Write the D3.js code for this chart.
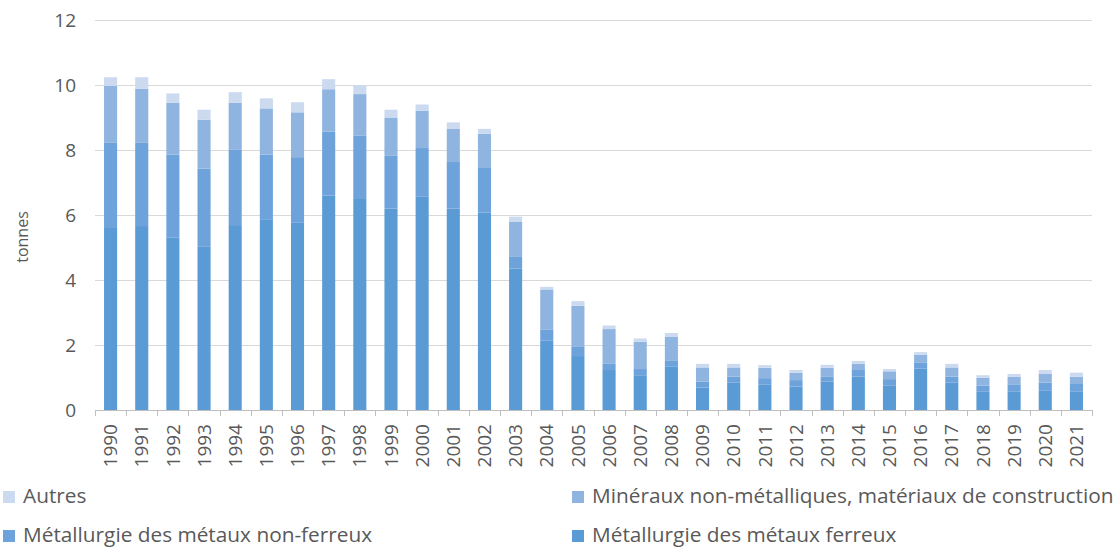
<!DOCTYPE html>
<html>
<head>
<meta charset="utf-8">
<script src="https://cdn.jsdelivr.net/npm/d3@7"></script>
<style>
  html, body { margin: 0; padding: 0; background: #ffffff; }
  svg { display: block; }
  text { font-family: "Open Sans", sans-serif; fill: #595959; }
</style>
</head>
<body>
<svg id="chart" width="1116" height="547"></svg>
<script>
// ---- Data (tonnes) ----
const years = ["1990","1991","1992","1993","1994","1995","1996","1997","1998","1999","2000","2001","2002","2003","2004","2005","2006","2007","2008","2009","2010","2011","2012","2013","2014","2015","2016","2017","2018","2019","2020","2021"];
const ferreux =    [5.60,5.66,5.30,5.02,5.69,5.85,5.76,6.60,6.52,6.20,6.56,6.20,6.08,4.35,2.13,1.66,1.23,1.07,1.33,0.69,0.84,0.79,0.72,0.87,1.03,0.76,1.27,0.84,0.56,0.56,0.59,0.56];
const nonFerreux = [2.62,2.56,2.56,2.41,2.33,2.01,2.02,1.97,1.93,1.62,1.50,1.43,1.39,0.36,0.35,0.28,0.19,0.19,0.18,0.18,0.19,0.19,0.20,0.15,0.20,0.19,0.18,0.19,0.19,0.23,0.25,0.24];
const mineraux =   [1.75,1.66,1.59,1.50,1.43,1.42,1.38,1.30,1.27,1.18,1.15,1.03,1.03,1.09,1.23,1.27,1.07,0.84,0.75,0.44,0.28,0.32,0.23,0.28,0.19,0.24,0.25,0.28,0.24,0.23,0.28,0.22];
const autres =     [0.27,0.36,0.29,0.31,0.33,0.31,0.31,0.31,0.28,0.24,0.19,0.19,0.15,0.15,0.08,0.14,0.11,0.10,0.11,0.11,0.11,0.08,0.08,0.09,0.09,0.07,0.08,0.11,0.08,0.09,0.11,0.13];
const yTicks = [0,2,4,6,8,10,12];
const seriesNames = ["Métallurgie des métaux ferreux","Métallurgie des métaux non-ferreux","Minéraux non-métalliques, matériaux de construction","Autres"];
const seriesColors = ["#5B9BD5","#6DA2DA","#8FB4E0","#CCDAF0"];
const yLabel = "tonnes";

// ---- Build table ----
const keys = ["fer","nf","min","aut"];
const table = years.map((y,i)=>({year:y, fer:ferreux[i], nf:nonFerreux[i], min:mineraux[i], aut:autres[i]}));
const stacked = d3.stack().keys(keys)(table);

const svg = d3.select("#chart");
const x = d3.scaleBand().domain(years).range([95,1092]).paddingInner(0.58).paddingOuter(0.29);
const y = d3.scaleLinear().domain([0,12]).range([410,20]);

// gridlines
svg.append("g").selectAll("line").data(yTicks).join("line")
  .attr("x1",95).attr("x2",1092)
  .attr("y1",d=>Math.round(y(d))+0.5).attr("y2",d=>Math.round(y(d))+0.5)
  .attr("stroke","#D9D9D9").attr("stroke-width",1);

// y tick labels
svg.append("g").selectAll("text").data(yTicks).join("text")
  .attr("x",76).attr("y",d=>y(d)).attr("dy","0.35em")
  .attr("text-anchor","end").style("font-size","19px")
  .text(d=>d);

// y axis title
svg.append("text")
  .attr("transform","translate(28,237) rotate(-90)")
  .attr("text-anchor","middle").style("font-size","16px")
  .text(yLabel);

// bars
svg.append("g").selectAll("g").data(stacked).join("g")
  .attr("fill",(d,i)=>seriesColors[i])
  .selectAll("rect").data(d=>d).join("rect")
  .attr("x",d=>x(d.data.year))
  .attr("width",x.bandwidth())
  .attr("y",d=>y(d[1]))
  .attr("height",d=>y(d[0])-y(d[1]));

// x axis
const xAxisG = svg.append("g").attr("transform","translate(0,410)");
xAxisG.append("line").attr("x1",95).attr("x2",1092).attr("y1",0.5).attr("y2",0.5).attr("stroke","#BFBFBF");
const boundaries = d3.range(years.length+1).map(i=>x.range()[0] + i*x.step());
xAxisG.selectAll("line.tick").data(boundaries).join("line").attr("class","tick")
  .attr("x1",d=>Math.round(d)+0.5).attr("x2",d=>Math.round(d)+0.5)
  .attr("y1",0).attr("y2",6).attr("stroke","#BFBFBF");
xAxisG.selectAll("text").data(years).join("text")
  .attr("transform",d=>`translate(${x(d)+x.bandwidth()/2},14) rotate(-90)`)
  .attr("text-anchor","end").attr("dy","0.35em").style("font-size","19px")
  .text(d=>d);

// legend
const legendItems = [
  {name:seriesNames[3], color:seriesColors[3], lx:3, ly:503},
  {name:seriesNames[2], color:seriesColors[2], lx:572, ly:503},
  {name:seriesNames[1], color:seriesColors[1], lx:3, ly:542},
  {name:seriesNames[0], color:seriesColors[0], lx:572, ly:542}
];
const lg = svg.append("g").selectAll("g").data(legendItems).join("g");
lg.append("rect").attr("x",d=>d.lx).attr("y",d=>d.ly-12).attr("width",12).attr("height",12).attr("fill",d=>d.color);
lg.append("text").attr("x",d=>d.lx+20).attr("y",d=>d.ly).style("font-size","20.8px").text(d=>d.name);
</script>
</body>
</html>
